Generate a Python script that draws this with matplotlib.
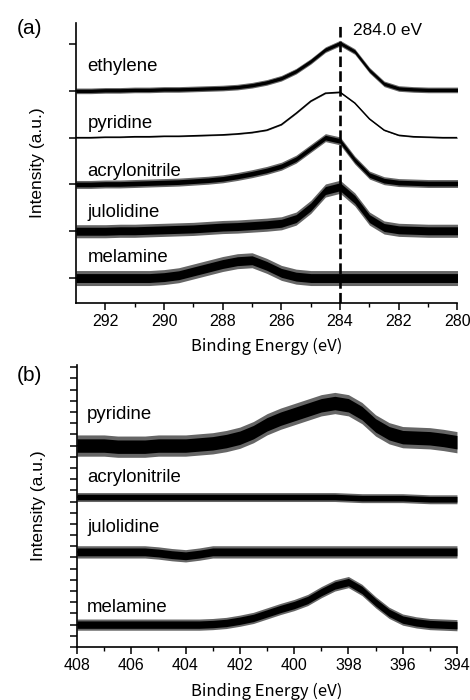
import matplotlib
matplotlib.use("Agg")
import matplotlib.pyplot as plt
import numpy as np

plt.rcParams['font.family'] = ['Liberation Sans', 'DejaVu Sans']

# ---- panel (a): C 1s region (0.5 eV grid) ----
energy_a = [293.0, 292.5, 292.0, 291.5, 291.0, 290.5, 290.0, 289.5, 289.0,
            288.5, 288.0, 287.5, 287.0, 286.5, 286.0, 285.5, 285.0, 284.5,
            284.0, 283.5, 283.0, 282.5, 282.0, 281.5, 281.0, 280.5, 280.0]
names_a = ["ethylene", "pyridine", "acrylonitrile", "julolidine", "melamine"]
offsets_a = [4, 3, 2, 1, 0]
ethylene_a = [0.0, 0.0, 0.01, 0.01, 0.02, 0.02, 0.03, 0.03, 0.04, 0.05, 0.06,
              0.08, 0.12, 0.18, 0.27, 0.42, 0.63, 0.88, 1.02, 0.84, 0.44, 0.15,
              0.05, 0.03, 0.02, 0.02, 0.02]
pyridine_a = [0.0, 0.0, 0.01, 0.01, 0.02, 0.02, 0.03, 0.03, 0.04, 0.05, 0.06,
              0.08, 0.11, 0.16, 0.28, 0.52, 0.78, 0.95, 0.97, 0.74, 0.40, 0.16,
              0.05, 0.02, 0.01, 0.0, 0.0]
acrylonitrile_a = [0.0, 0.0, 0.01, 0.01, 0.02, 0.03, 0.04, 0.05, 0.07, 0.09,
                   0.12, 0.17, 0.23, 0.30, 0.39, 0.54, 0.77, 1.0, 0.93, 0.52,
                   0.20, 0.08, 0.04, 0.03, 0.02, 0.02, 0.02]
julolidine_a = [0.0, 0.0, 0.0, 0.01, 0.01, 0.02, 0.03, 0.04, 0.05, 0.07, 0.09,
                0.10, 0.12, 0.14, 0.17, 0.27, 0.52, 0.87, 0.95, 0.68, 0.27,
                0.08, 0.03, 0.02, 0.01, 0.01, 0.01]
melamine_a = [0.0, 0.0, 0.0, 0.0, 0.0, 0.0, 0.02, 0.06, 0.14, 0.22, 0.30, 0.36,
              0.38, 0.26, 0.11, 0.03, 0.0, 0.0, 0.0, 0.0, 0.0, 0.0, 0.0, 0.0,
              0.0, 0.0, 0.0]
spectra_a = [ethylene_a, pyridine_a, acrylonitrile_a, julolidine_a, melamine_a]
noise_core_a = [0.035, 0.0, 0.05, 0.085, 0.095]
noise_spike_a = [0.06, 0.012, 0.085, 0.14, 0.16]
label_y_a = [4.42, 3.2, 2.18, 1.30, 0.34]

# ---- panel (b): N 1s region ----
energy_b = [408.0, 407.5, 407.0, 406.5, 406.0, 405.5, 405.0, 404.5, 404.0,
            403.5, 403.0, 402.5, 402.0, 401.5, 401.0, 400.5, 400.0, 399.5,
            399.0, 398.5, 398.0, 397.5, 397.0, 396.5, 396.0, 395.5, 395.0,
            394.5, 394.0]
names_b = ["pyridine", "acrylonitrile", "julolidine", "melamine"]
offsets_b = [18.0, 13.4, 8.5, 2.0]
pyridine_b = [0.0, 0.0, 0.0, -0.1, -0.1, -0.1, 0.0, 0.0, 0.0, 0.1, 0.2, 0.4,
              0.7, 1.2, 1.9, 2.4, 2.8, 3.2, 3.6, 3.8, 3.6, 2.9, 1.8, 1.1, 0.75,
              0.7, 0.65, 0.5, 0.3]
acrylonitrile_b = [0.0, 0.0, 0.0, 0.0, 0.0, 0.0, 0.0, 0.0, 0.0, 0.0, 0.0, 0.0,
                   0.0, 0.0, 0.0, 0.0, 0.0, 0.0, 0.0, 0.0, -0.05, -0.1, -0.1,
                   -0.1, -0.1, -0.15, -0.2, -0.2, -0.2]
julolidine_b = [0.0, 0.0, 0.0, 0.0, 0.0, 0.0, -0.1, -0.25, -0.35, -0.2, 0.0,
                0.0, 0.0, 0.0, 0.0, 0.0, 0.0, 0.0, 0.0, 0.0, 0.0, 0.0, 0.0, 0.0,
                0.0, 0.0, 0.0, 0.0, 0.0]
melamine_b = [0.0, 0.0, 0.0, 0.0, 0.0, 0.0, 0.0, 0.0, 0.0, 0.0, 0.05, 0.15,
              0.35, 0.6, 1.0, 1.4, 1.75, 2.2, 2.9, 3.5, 3.8, 3.1, 2.0, 1.05,
              0.45, 0.2, 0.05, 0.0, -0.05]
spectra_b = [pyridine_b, acrylonitrile_b, julolidine_b, melamine_b]
noise_core_b = [0.6, 0.25, 0.35, 0.33]
noise_spike_b = [0.95, 0.4, 0.55, 0.5]
label_y_b = [20.4, 14.7, 10.3, 3.1]


def draw_spectrum(ax, x, y, base, core, spike):
    x = np.array(x)
    y = np.array(y) + base
    ax.fill_between(x, y - spike, y + spike, color='0.4', lw=0)
    if core > 0:
        ax.fill_between(x, y - core, y + core, color='black', lw=0)
    ax.plot(x, y, color='black', lw=1.1, solid_joinstyle='round')


fig = plt.figure(figsize=(4.7, 7), dpi=100)

# panel (a)
ax1 = fig.add_axes([0.1617, 0.5671, 0.8117, 0.4])
for i in range(len(names_a)):
    draw_spectrum(ax1, energy_a, spectra_a[i], offsets_a[i],
                  noise_core_a[i], noise_spike_a[i])
    ax1.text(292.6, label_y_a[i], names_a[i], fontsize=13.4, va='baseline')
ax1.axvline(284.0, color='black', lw=1.9, ls=(0, (4, 1.6)))
ax1.text(283.55, 5.3, "284.0 eV", fontsize=12.4, va='center')
ax1.set_xlim(293, 280)
ax1.set_ylim(-0.534, 5.449)
ax1.set_xticks([292, 290, 288, 286, 284, 282, 280])
ax1.set_xticks([291, 289, 287, 285, 283, 281], minor=True)
ax1.set_yticks([0, 1, 2, 3, 4, 5])
ax1.set_yticklabels([])
ax1.set_xlabel("Binding Energy (eV)", family=['Noto Sans CJK JP', 'DejaVu Sans'],
               fontsize=12, labelpad=6)
ax1.set_ylabel("Intensity (a.u.)", fontsize=12.5, labelpad=14)

# panel (b)
ax2 = fig.add_axes([0.1638, 0.0757, 0.8085, 0.4029])
for i in range(len(names_b)):
    draw_spectrum(ax2, energy_b, spectra_b[i], offsets_b[i],
                  noise_core_b[i], noise_spike_b[i])
    ax2.text(407.63, label_y_b[i], names_b[i], fontsize=13.4, va='baseline')
ax2.set_xlim(408, 394)
ax2.set_ylim(0, 25.2)
ax2.set_xticks([408, 406, 404, 402, 400, 398, 396, 394])
ax2.set_xticks([407, 405, 403, 401, 399, 397, 395], minor=True)
ax2.set_yticks(range(0, 26))
ax2.set_yticklabels([])
ax2.set_xlabel("Binding Energy (eV)", family=['Noto Sans CJK JP', 'DejaVu Sans'],
               fontsize=12, labelpad=7)
ax2.set_ylabel("Intensity (a.u.)", fontsize=12.5, labelpad=14)

for ax in (ax1, ax2):
    ax.spines['top'].set_visible(False)
    ax.spines['right'].set_visible(False)
    ax.spines['left'].set_linewidth(1.2)
    ax.spines['bottom'].set_linewidth(1.2)
    ax.tick_params(which='major', direction='out', length=5, width=1.1,
                   labelsize=11.5, pad=3)
    ax.tick_params(which='minor', direction='out', length=3, width=1.0)

fig.text(0.062, 0.96, "(a)", fontsize=15, ha='center', va='center')
fig.text(0.062, 0.464, "(b)", fontsize=15, ha='center', va='center')

fig.savefig("out.png", dpi=100)
